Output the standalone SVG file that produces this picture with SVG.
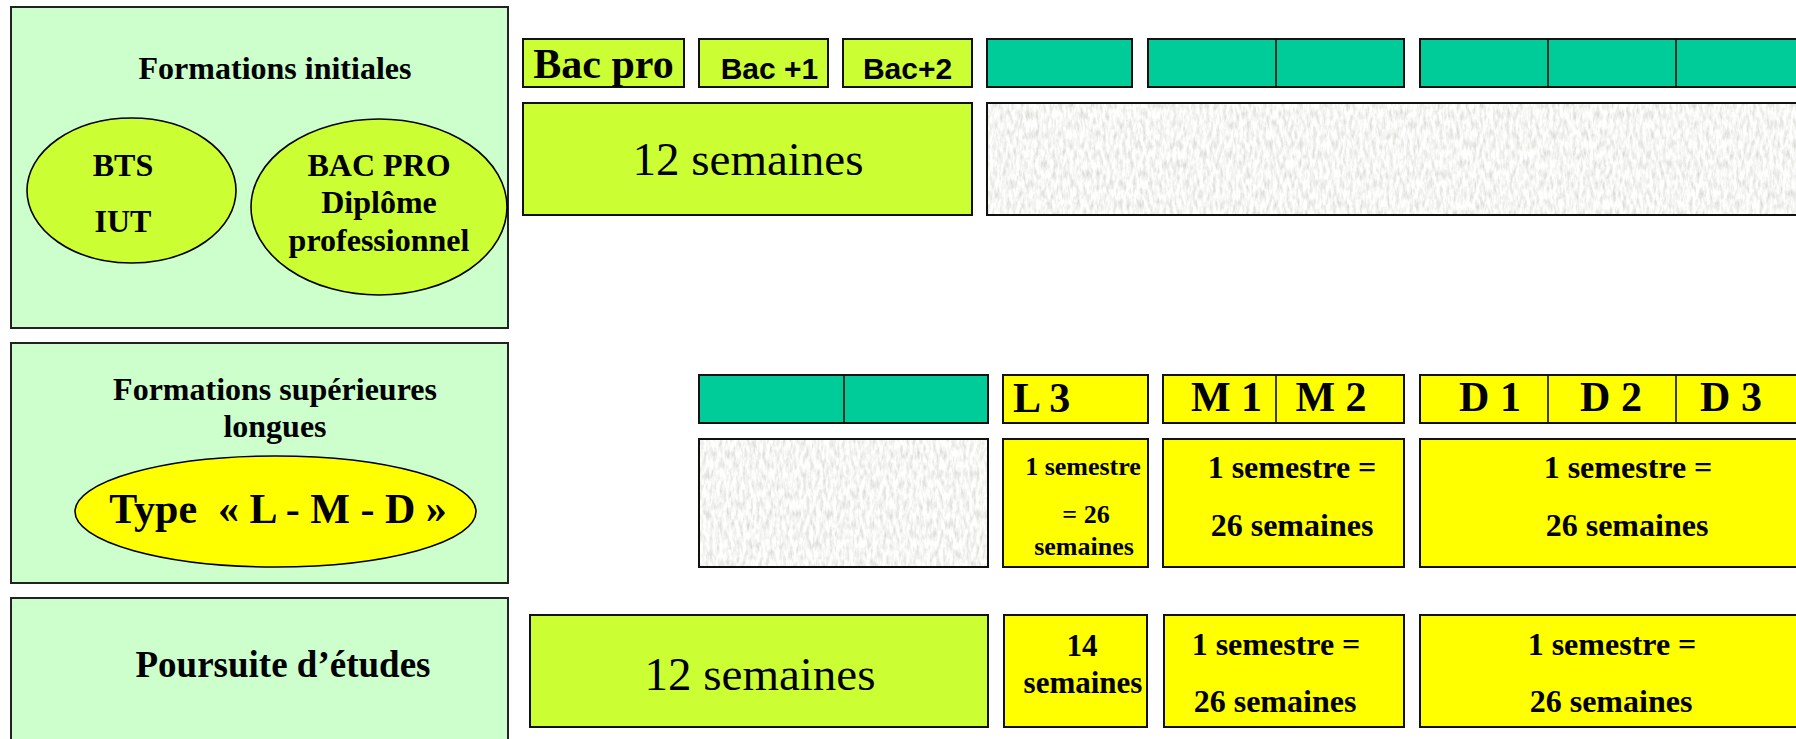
<svg xmlns="http://www.w3.org/2000/svg" width="1796" height="739" viewBox="0 0 1796 739">
<style>
.panel{fill:#CCFFCC;stroke:#222;stroke-width:2}
.lime{fill:#CCFF33;stroke:#111;stroke-width:2}
.yel{fill:#FFFF00;stroke:#111;stroke-width:2}
.teal{fill:#00CC99;stroke:#111;stroke-width:2}
.div{stroke:#111;stroke-width:1.6}
.ell{stroke:#000;stroke-width:1.6}
.sb{font-family:"Liberation Serif","Times New Roman",serif;font-weight:bold;fill:#000;text-anchor:middle}
.sr{font-family:"Liberation Serif","Times New Roman",serif;fill:#000;text-anchor:middle}
.ab{font-family:"Liberation Sans",Arial,sans-serif;font-weight:bold;fill:#000;text-anchor:middle}
.f32{font-size:32px}
.f26{font-size:26px}
.f31{font-size:31px}
.f42{font-size:42px}
.f47{font-size:47px}
.f37{font-size:37px}
.f30{font-size:30px}
</style>
<defs>
<filter id="paper" x="0" y="0" width="100%" height="100%">
<feTurbulence type="fractalNoise" baseFrequency="0.3 0.1" numOctaves="4" seed="7" result="n"/>
<feColorMatrix in="n" type="matrix" values="0.6 0 0 0 0.62  0.6 0 0 0 0.62  0.6 0 0 0 0.6  0 0 0 0 1" result="c"/>
<feComposite in="c" in2="SourceGraphic" operator="in"/>
</filter>
</defs>
<rect width="1796" height="739" fill="#fff"/>

<g id="panel-initiales">
<rect class="panel" x="11" y="7" width="497" height="321"/>
<text class="sb f32" x="275" y="79">Formations initiales</text>
<ellipse class="ell" cx="131.5" cy="190.5" rx="104.5" ry="72.5" fill="#CCFF33"/>
<text class="sb f32" x="123" y="176">BTS</text>
<text class="sb f32" x="123" y="232">IUT</text>
<ellipse class="ell" cx="379" cy="207" rx="128" ry="88" fill="#CCFF33"/>
<text class="sb f32" x="379" y="176">BAC PRO</text>
<text class="sb f32" x="379" y="213">Diplôme</text>
<text class="sb f32" x="379" y="251">professionnel</text>
</g>

<g id="panel-superieures">
<rect class="panel" x="11" y="343" width="497" height="240"/>
<text class="sb f32" x="275" y="400">Formations supérieures</text>
<text class="sb f32" x="275" y="437">longues</text>
<ellipse class="ell" cx="275.5" cy="511.5" rx="200.5" ry="55.5" fill="#FFFF00"/>
<text class="sb f42" x="278" y="523" xml:space="preserve">Type  « L - M - D »</text>
</g>

<g id="panel-poursuite">
<rect class="panel" x="11" y="598" width="497" height="160"/>
<text class="sb f37" x="283" y="677">Poursuite d’études</text>
</g>

<g id="row1">
<g id="bacpro"><rect class="lime" x="523" y="39" width="161" height="48"/><text class="sb f42" x="603.5" y="78">Bac pro</text></g>
<g id="bac1"><rect class="lime" x="699" y="39" width="129" height="48"/><text class="ab f30" x="769.5" y="79">Bac +1</text></g>
<g id="bac2"><rect class="lime" x="843" y="39" width="129" height="48"/><text class="ab f30" x="907.5" y="79">Bac+2</text></g>
<g id="r1-12sem"><rect class="lime" x="523" y="103" width="449" height="112"/><text class="sr f47" x="748" y="175">12 semaines</text></g>
<g id="r1-teal1"><rect class="teal" x="987" y="39" width="145" height="48"/></g>
<g id="r1-teal2"><rect class="teal" x="1148" y="39" width="256" height="48"/><line class="div" x1="1276" y1="39" x2="1276" y2="87"/></g>
<g id="r1-teal3"><rect class="teal" x="1420" y="39" width="400" height="48"/><line class="div" x1="1548" y1="39" x2="1548" y2="87"/><line class="div" x1="1676" y1="39" x2="1676" y2="87"/></g>
<g id="r1-gray"><rect x="987" y="103" width="830" height="112" fill="#eee" filter="url(#paper)"/><rect x="987" y="103" width="830" height="112" fill="none" stroke="#111" stroke-width="2"/></g>
</g>

<g id="row2">
<g id="r2-teal"><rect class="teal" x="699" y="375" width="289" height="48"/><line class="div" x1="844" y1="375" x2="844" y2="423"/></g>
<g id="L3"><rect class="yel" x="1003" y="375" width="145" height="48"/><text class="sb f42" x="1013" y="412" style="text-anchor:start">L 3</text></g>
<g id="M"><rect class="yel" x="1163" y="375" width="241" height="48"/><line class="div" x1="1276" y1="375" x2="1276" y2="423"/><text class="sb f42" x="1226.5" y="411">M 1</text><text class="sb f42" x="1331" y="411">M 2</text></g>
<g id="D"><rect class="yel" x="1420" y="375" width="400" height="48"/><line class="div" x1="1548" y1="375" x2="1548" y2="423"/><line class="div" x1="1676" y1="375" x2="1676" y2="423"/><text class="sb f42" x="1490" y="411">D 1</text><text class="sb f42" x="1611" y="411">D 2</text><text class="sb f42" x="1731" y="411">D 3</text></g>
<g id="r2-gray"><rect x="699" y="439" width="289" height="128" fill="#eee" filter="url(#paper)"/><rect x="699" y="439" width="289" height="128" fill="none" stroke="#111" stroke-width="2"/></g>
<g id="r2-L3"><rect class="yel" x="1003" y="439" width="145" height="128"/><text class="sb f26" x="1083" y="475">1 semestre</text><text class="sb f26" x="1086" y="523">= 26</text><text class="sb f26" x="1084" y="555">semaines</text></g>
<g id="r2-M"><rect class="yel" x="1163" y="439" width="241" height="128"/><text class="sb f32" x="1292" y="478">1 semestre =</text><text class="sb f32" x="1292" y="536">26 semaines</text></g>
<g id="r2-D"><rect class="yel" x="1420" y="439" width="400" height="128"/><text class="sb f32" x="1628" y="478">1 semestre =</text><text class="sb f32" x="1627" y="536">26 semaines</text></g>
</g>

<g id="row3">
<g id="r3-12sem"><rect class="lime" x="530" y="615" width="458" height="112"/><text class="sr f47" x="760" y="690">12 semaines</text></g>
<g id="r3-14"><rect class="yel" x="1004" y="615" width="143" height="112"/><text class="sb f31" x="1082" y="656">14</text><text class="sb f31" x="1083" y="693">semaines</text></g>
<g id="r3-M"><rect class="yel" x="1164" y="615" width="240" height="112"/><text class="sb f32" x="1276" y="655">1 semestre =</text><text class="sb f32" x="1275" y="712">26 semaines</text></g>
<g id="r3-D"><rect class="yel" x="1420" y="615" width="400" height="112"/><text class="sb f32" x="1612" y="655">1 semestre =</text><text class="sb f32" x="1611" y="712">26 semaines</text></g>
</g>
</svg>
